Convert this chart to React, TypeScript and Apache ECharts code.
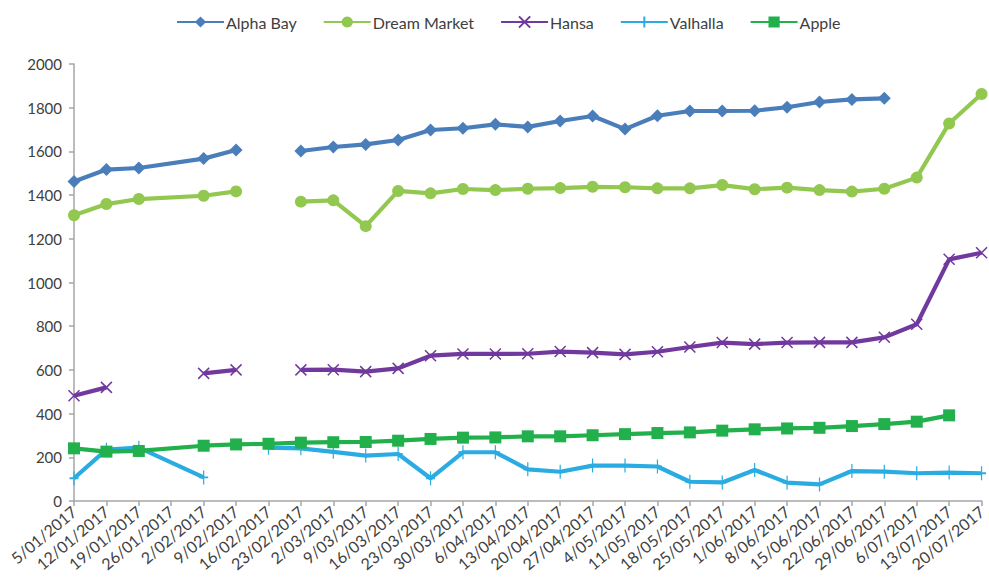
import React, { useEffect, useRef } from "react";
import * as echarts from "echarts";

const categories = [
  "5/01/2017", "12/01/2017", "19/01/2017", "26/01/2017", "2/02/2017", "9/02/2017",
  "16/02/2017", "23/02/2017", "2/03/2017", "9/03/2017", "16/03/2017", "23/03/2017",
  "30/03/2017", "6/04/2017", "13/04/2017", "20/04/2017", "27/04/2017", "4/05/2017",
  "11/05/2017", "18/05/2017", "25/05/2017", "1/06/2017", "8/06/2017", "15/06/2017",
  "22/06/2017", "29/06/2017", "6/07/2017", "13/07/2017", "20/07/2017",
];

// weeks on the date axis that have no data row at all (lines run straight across them)
const datesWithoutData = ["26/01/2017"];
const dataDates = categories.filter((c) => !datesWithoutData.includes(c));

// values per data date (null = blank cell, the line breaks)
const alphaBay = [
  1462, 1517, 1524, 1567, 1606, null, 1602, 1620, 1632, 1652, 1698, 1706, 1724, 1712,
  1739, 1762, 1702, 1763, 1785, 1785, 1786, 1802, 1826, 1838, 1843, null, null, null,
];
const dreamMarket = [
  1308, 1359, 1382, 1397, 1417, null, 1370, 1376, 1258, 1419, 1408, 1428, 1423, 1429,
  1432, 1438, 1436, 1431, 1431, 1446, 1427, 1434, 1423, 1416, 1429, 1480, 1728, 1863,
];
const hansa = [
  482, 520, null, 584, 600, null, 600, 601, 592, 607, 665, 673, 673, 674,
  684, 679, 671, 683, 705, 725, 718, 725, 726, 726, 749, 809, 1106, 1136,
];
const valhalla = [
  104, 235, 244, 108, null, 244, 241, 225, 208, 215, 104, 223, 223, 145,
  134, 162, 162, 158, 88, 85, 142, 84, 76, 137, 134, 127, 130, 127,
];
const apple = [
  241, 226, 229, 253, 259, 262, 267, 269, 270, 276, 284, 290, 291, 296,
  296, 301, 306, 311, 314, 322, 328, 332, 335, 343, 352, 363, 392, null,
];

const yTicks = { min: 0, max: 2000, interval: 200 };

const FONT = "Lato, 'Open Sans', sans-serif";
const TEXT = "#404040";
const AXIS = "#A6A6A6";

const toPairs = (vals: (number | null)[]) =>
  dataDates.map((d, i) => [categories.indexOf(d), vals[i] == null ? "-" : vals[i]]);

const X_PATH = "path://M0,0L10,10M10,0L0,10";
const PLUS_PATH = "path://M5,0L5,14M1,7L9,7";

export default function App() {
  const ref = useRef<HTMLDivElement>(null);

  useEffect(() => {
    if (!ref.current) return;
    const chart = echarts.init(ref.current, undefined, { renderer: "svg" });

    const mk = (
      name: string,
      vals: (number | null)[],
      color: string,
      symbol: string,
      symbolSize: number | number[],
      stroke?: number
    ) => ({
      name,
      type: "line",
      data: toPairs(vals),
      connectNulls: false,
      symbol,
      symbolSize,
      showAllSymbol: true,
      lineStyle: { color, width: 4.2 },
      itemStyle: stroke
        ? { color, borderColor: color, borderWidth: stroke }
        : { color, borderWidth: 0 },
      emphasis: { disabled: true },
      z: 2,
    });

    chart.setOption({
      animation: false,
      textStyle: { fontFamily: FONT },
      legend: {
        top: 14,
        left: 176,
        padding: 0,
        itemWidth: 47,
        itemHeight: 14,
        itemGap: 26,
        textStyle: { fontFamily: FONT, fontSize: 16, color: TEXT, padding: [0, 0, 0, -3] },
        data: ["Alpha Bay", "Dream Market", "Hansa", "Valhalla", "Apple"],
      },
      grid: { left: 74, right: 7, top: 64, bottom: 78 },
      xAxis: {
        type: "category",
        data: categories,
        boundaryGap: false,
        axisLine: { show: true, lineStyle: { color: AXIS, width: 1.5 } },
        axisTick: { show: true, length: 5, interval: 0, lineStyle: { color: AXIS, width: 1.5 } },
        axisLabel: {
          interval: 0,
          rotate: 40,
          margin: 8,
          fontFamily: FONT,
          fontSize: 16,
          color: TEXT,
        },
        splitLine: { show: false },
      },
      yAxis: {
        type: "value",
        min: yTicks.min,
        max: yTicks.max,
        interval: yTicks.interval,
        axisLine: { show: true, lineStyle: { color: AXIS, width: 1.5 } },
        axisTick: { show: true, length: 5, lineStyle: { color: AXIS, width: 1.5 } },
        axisLabel: {
          fontFamily: FONT,
          fontSize: 15,
          color: TEXT,
          margin: 12,
          formatter: (v: number) => String(v),
        },
        splitLine: { show: false },
      },
      series: [
        mk("Alpha Bay", alphaBay, "#4A7EBB", "diamond", [13, 13]),
        mk("Dream Market", dreamMarket, "#92C850", "circle", 12),
        mk("Hansa", hansa, "#71399E", X_PATH, 11, 1.5),
        mk("Valhalla", valhalla, "#2AACE2", PLUS_PATH, [9, 14], 1.5),
        mk("Apple", apple, "#21B04B", "rect", 12),
      ],
    });

    return () => chart.dispose();
  }, []);

  return <div ref={ref} style={{ width: 989, height: 579, position: "absolute", left: 0, top: 0 }} />;
}
